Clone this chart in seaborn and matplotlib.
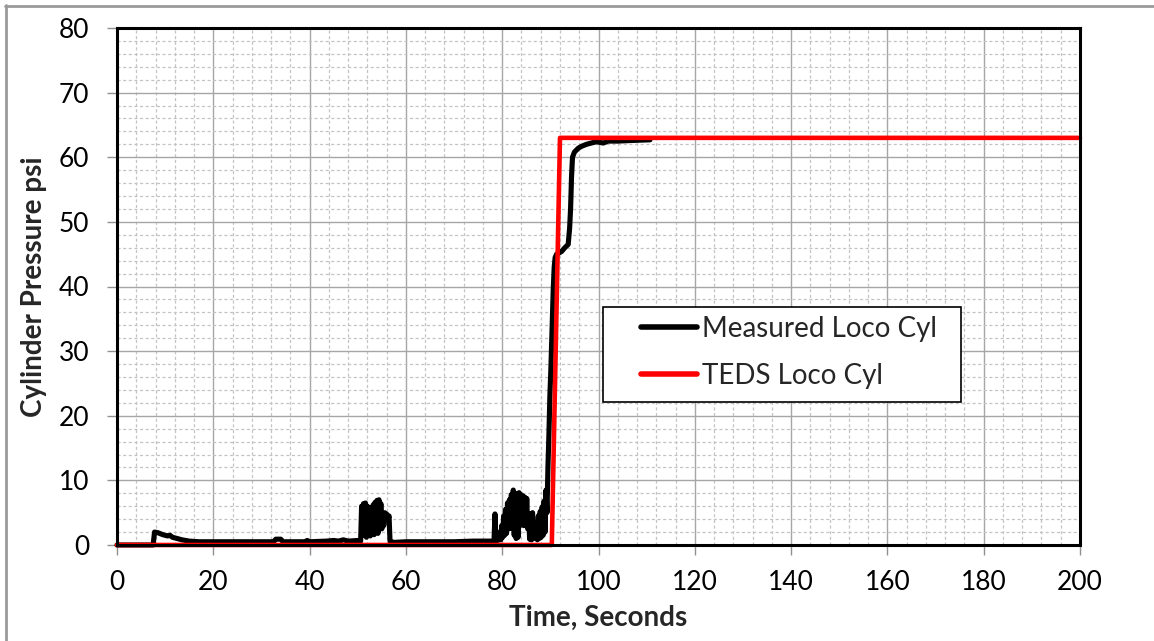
import numpy as np
import pandas as pd
import matplotlib
matplotlib.use("Agg")
import matplotlib.pyplot as plt
from matplotlib.lines import Line2D
from matplotlib.patches import Rectangle
from matplotlib.ticker import MultipleLocator
import seaborn as sns

# Measured locomotive cylinder pressure
measured_time = [
    0.0, 7.5, 7.8, 8.5, 9.5, 10.5, 11.0, 11.5, 12.5, 13.5, 15.0, 17.0, 20.0,
    32.5, 33.0, 34.0, 34.5, 39.0, 39.5, 40.0, 43.5, 45.0, 46.0, 47.0, 48.0, 50.0,
    50.6, 50.8, 51.0, 51.2, 51.4, 51.6, 51.8, 52.0, 52.2, 52.4, 52.6, 52.8, 53.0,
    53.2, 53.4, 53.6, 53.8, 54.0, 54.2, 54.4, 54.6, 54.8, 55.0, 55.2, 55.4, 55.6,
    55.8, 56.0, 56.2, 56.5, 56.7, 57.5, 60.0, 70.0, 74.0, 77.0,
    78.3, 78.5, 78.7, 79.3, 79.5, 79.7, 79.9, 80.1, 80.3, 80.5, 80.7, 80.9, 81.1,
    81.3, 81.5, 81.7, 81.9, 82.1, 82.3, 82.5, 82.7, 82.9, 83.1, 83.3, 83.5, 83.7,
    83.9, 84.1, 84.3, 84.5, 84.7, 84.9, 85.1, 85.3, 85.5, 85.7, 85.9, 86.1, 86.3,
    86.5, 86.7, 86.9, 87.1, 87.3, 87.5, 87.7, 87.9, 88.1, 88.3, 88.5, 88.7, 88.9,
    89.1, 89.3, 89.5, 89.7, 89.9, 90.1, 90.3, 90.6, 90.8, 91.0, 91.3, 92.3, 93.0,
    93.7, 94.0, 94.2, 94.4, 94.6, 95.0, 95.8, 96.5, 97.5, 98.5, 99.6, 101.0,
    102.0, 104.0, 107.0, 110.7,
]
measured_psi = [
    0.0, 0.0, 2.0, 1.9, 1.6, 1.4, 1.5, 1.2, 1.0, 0.8, 0.6, 0.5, 0.5,
    0.5, 0.9, 0.9, 0.5, 0.5, 0.7, 0.5, 0.6, 0.7, 0.6, 0.8, 0.6, 0.7,
    0.6, 6.0, 1.5, 6.4, 2.0, 6.5, 1.2, 6.0, 2.2, 5.6, 1.4, 5.8, 2.5,
    6.2, 1.6, 6.6, 2.0, 6.9, 1.8, 7.0, 3.0, 6.4, 2.5, 4.5, 3.0, 5.0,
    4.2, 4.8, 3.8, 4.5, 0.6, 0.4, 0.5, 0.5, 0.6, 0.6,
    0.6, 4.8, 0.6, 0.8, 2.0, 0.8, 3.0, 1.2, 4.5, 1.5, 5.5, 1.8, 6.5,
    2.5, 7.0, 2.6, 7.8, 2.8, 8.5, 1.5, 8.0, 1.0, 7.6, 1.2, 8.1, 3.0,
    7.8, 3.2, 7.6, 3.0, 7.4, 3.2, 7.2, 2.5, 4.3, 0.9, 4.8, 0.8, 5.0,
    1.0, 3.5, 1.2, 3.2, 0.8, 4.5, 1.0, 5.2, 1.2, 5.9, 1.5, 6.8, 2.0,
    8.5, 5.0, 12.0, 17.0, 23.0, 27.0, 32.0, 39.5, 43.0, 44.5, 45.0, 45.4, 46.0,
    46.5, 49.0, 52.0, 57.0, 60.0, 60.8, 61.4, 61.7, 62.0, 62.2, 62.4, 62.2,
    62.5, 62.5, 62.6, 62.7,
]

# TEDS simulated cylinder pressure
teds_time = [0.0, 90.3, 92.0, 200.0]
teds_psi = [0.0, 0.0, 63.0, 63.0]

series_names = ["Measured Loco Cyl", "TEDS Loco Cyl"]
series_colors = ["black", "#ff0000"]

x_ticks = list(range(0, 201, 20))
y_ticks = list(range(0, 81, 10))

df = pd.concat([
    pd.DataFrame({"time": measured_time, "psi": measured_psi, "series": series_names[0]}),
    pd.DataFrame({"time": teds_time, "psi": teds_psi, "series": series_names[1]}),
], ignore_index=True)

sns.set_theme(style="white")
plt.rcParams["font.family"] = ["Lato", "DejaVu Sans"]

fig = plt.figure(figsize=(11.54, 6.41), dpi=100)
ax = fig.add_axes([117 / 1154, 1 - 545 / 641, (1080 - 117) / 1154, (545 - 28) / 641])

sns.lineplot(
    data=df, x="time", y="psi", hue="series", hue_order=series_names,
    palette=series_colors, sort=False, estimator=None, linewidth=3.7,
    legend=False, ax=ax,
)
for ln in ax.lines:
    ln.set_solid_joinstyle("round")
    ln.set_solid_capstyle("round")
    ln.set_clip_on(False)
ax.lines[1].set_linewidth(3.3)

ax.set_xlim(0, 200)
ax.set_ylim(0, 80)
ax.set_xticks(x_ticks)
ax.set_yticks(y_ticks)
ax.xaxis.set_minor_locator(MultipleLocator(4))
ax.yaxis.set_minor_locator(MultipleLocator(2))
ax.grid(which="major", color="#a6a6a6", linewidth=1.0, linestyle="-")
ax.grid(which="minor", color="#c4c4c4", linewidth=0.9, linestyle=(0, (2.5, 2.0)))
ax.set_axisbelow(True)

ax.tick_params(which="major", direction="out", length=7, width=1.0, color="#909090",
               labelsize=19, labelcolor="black", bottom=True, left=True)
ax.tick_params(axis="y", pad=13)
ax.tick_params(axis="x", pad=11)
ax.tick_params(which="minor", length=0)

for sp in ax.spines.values():
    sp.set_color("black")
    sp.set_linewidth(2.2)
    sp.set_visible(True)

ax.set_xlabel("Time, Seconds", fontsize=20, fontweight="bold", labelpad=7)
ax.set_ylabel("Cylinder Pressure psi", fontsize=20, fontweight="bold", labelpad=8)

# Legend box and entries
ax.add_patch(Rectangle((0.5047, 0.2766), 0.3717, 0.1838, transform=ax.transAxes,
                       facecolor="white", edgecolor="black", linewidth=1.2, zorder=4.5))
handles = [Line2D([0], [0], color=c, linewidth=4.0, solid_capstyle="round") for c in series_colors]
ax.legend(handles, series_names, loc="center left", bbox_to_anchor=(0.5441, 0.3723),
          frameon=False, fontsize=20, handlelength=2.0, handletextpad=0.2,
          labelspacing=0.75, borderpad=0, borderaxespad=0)

# thin gray border of the chart area (top and left edges visible)
fig.add_artist(Line2D([5 / 1154, 1.0], [1 - 5.5 / 641, 1 - 5.5 / 641], transform=fig.transFigure,
                      color="#9a9a9a", linewidth=2.0))
fig.add_artist(Line2D([5.5 / 1154, 5.5 / 1154], [0.0, 1 - 5 / 641], transform=fig.transFigure,
                      color="#9a9a9a", linewidth=2.0))

fig.savefig("out.png", dpi=100)
